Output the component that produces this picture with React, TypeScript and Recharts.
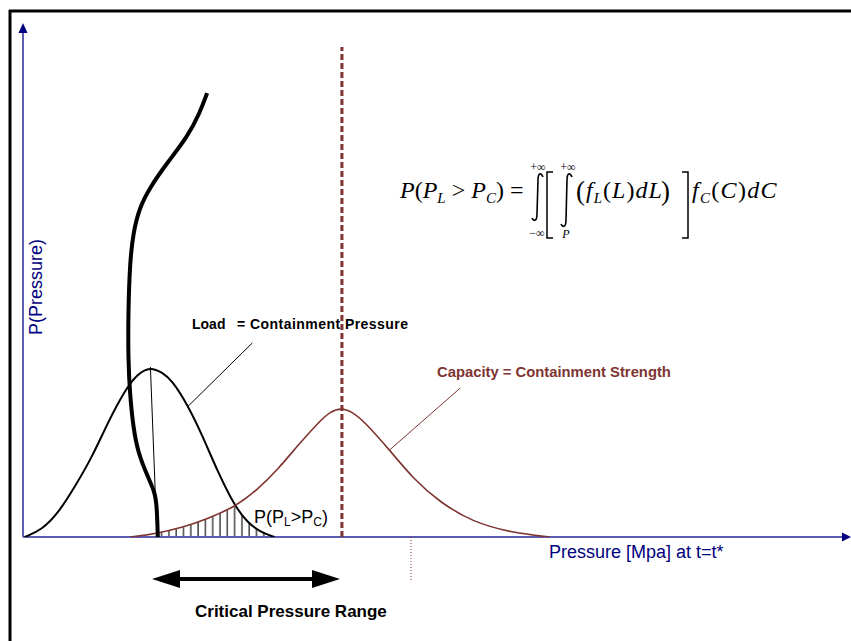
import React from 'react';
import { ComposedChart, Line, Area, XAxis, YAxis, ReferenceLine } from 'recharts';

// pressure (x) and density (y) in chart units
const loadPressure = [0.2, 2.3, 4.3, 6.3, 8.4, 10.3, 12.4, 14.0, 15.5, 16.9, 18.1, 20.1, 21.8, 23.7, 25.8, 27.3, 28.8, 30.6];
const loadDensity = [0, 1.4, 4.7, 9.8, 15.6, 22.3, 28.7, 32.0, 33.2, 32.2, 30.7, 25.6, 19.9, 12.7, 5.9, 2.9, 1.0, 0];

const capacityPressure = [13.0, 16.0, 19.3, 22.5, 25.8, 28.5, 31.0, 33.5, 36.0, 37.4, 38.7, 40.0, 41.5, 44.6, 47.4, 50.7, 54.7, 59.6, 64.1];
const capacityDensity = [0, 0.6, 1.8, 3.6, 5.9, 9.2, 13.2, 18.0, 22.5, 24.5, 25.2, 24.5, 22.6, 17.0, 11.5, 6.8, 2.9, 0.8, 0];

// pressure history trace (thick line), top to bottom
const historyPressure = [22.4, 21.5, 20.0, 17.5, 15.5, 14.2, 13.4, 13.0, 12.8, 12.8, 13.0, 13.4, 14.0, 15.2, 16.1, 16.3, 16.4];
const historyLevel = [86.7, 82.8, 78.1, 73.0, 68.4, 64.5, 59.4, 53.5, 43.8, 34.6, 28.1, 21.5, 16.4, 11.7, 8.6, 5.3, 0];

// hatched overlap P(PL>PC)
const overlapPressure = [16.4, 19.3, 22.5, 25.8, 27.3, 28.8, 30.6];
const overlapDensity = [0.8, 1.8, 3.6, 5.9, 2.9, 1.0, 0];

const loadPeak = { x: 15.5, y: 33.2 };
const loadPeakFoot = { x: 16.3, y: 0 };
const capacityMean = 38.8;
const capacityMeanTop = 95.7;
const designPressure = 47.2;
const loadLeader = [{ x: 27.9, y: 37.9 }, { x: 20.0, y: 25.4 }];
const capacityLeader = [{ x: 53.2, y: 29.1 }, { x: 44.6, y: 17.0 }];

const zip = (xs: number[], ys: number[]) => xs.map((x, i) => ({ x, y: ys[i] }));

const load = zip(loadPressure, loadDensity);
const capacity = zip(capacityPressure, capacityDensity);
const history = zip(historyPressure, historyLevel);
const overlap = zip(overlapPressure, overlapDensity);

const AXIS = '#5c5cb0';
const NAVY = '#000080';
const BROWN = '#7e3431';
const SANS = "'Liberation Sans', Arial, sans-serif";
const SERIF = "'Liberation Serif', 'Times New Roman', serif";

function Formula() {
  return (
    <g fontFamily={SERIF} fill="#000">
      <text x={400} y={198} fontSize={24}>
        <tspan fontStyle="italic">P</tspan>
        <tspan>(</tspan>
        <tspan fontStyle="italic">P</tspan>
        <tspan fontStyle="italic" fontSize={15} dy={5}>L</tspan>
        <tspan dy={-5}> &gt; </tspan>
        <tspan fontStyle="italic">P</tspan>
        <tspan fontStyle="italic" fontSize={15} dy={5}>C</tspan>
        <tspan dy={-5}>) =</tspan>
      </text>
      {/* outer integral */}
      <path d="M543 177 C541 172 538 173 538 180 L537 214 C537 221 534 222 532 218" fill="none" stroke="#000" strokeWidth={1.6} />
      <text x={538} y={171} fontSize={12} textAnchor="middle">+∞</text>
      <text x={537} y={237} fontSize={12} textAnchor="middle">−∞</text>
      {/* left bracket */}
      <path d="M553 172 H547 V238 H553" fill="none" stroke="#000" strokeWidth={1.5} />
      {/* inner integral */}
      <path d="M572 177 C570 172 567 173 567 180 L566 220 C566 227 563 228 561 224" fill="none" stroke="#000" strokeWidth={1.6} />
      <text x={568} y={171} fontSize={12} textAnchor="middle">+∞</text>
      <text x={566} y={238} fontSize={12} fontStyle="italic" textAnchor="middle">P</text>
      <text x={576} y={200} fontSize={27}>(</text>
      <text x={586} y={198} fontSize={24} letterSpacing={1}>
        <tspan fontStyle="italic">f</tspan>
        <tspan fontStyle="italic" fontSize={15} dy={5}>L</tspan>
        <tspan dy={-5}>(</tspan>
        <tspan fontStyle="italic">L</tspan>
        <tspan>)</tspan>
        <tspan fontStyle="italic">dL</tspan>
      </text>
      <text x={661} y={200} fontSize={27}>)</text>
      {/* right bracket */}
      <path d="M682 172 H688 V238 H682" fill="none" stroke="#000" strokeWidth={1.5} />
      <text x={692} y={198} fontSize={24} letterSpacing={1.3}>
        <tspan fontStyle="italic">f</tspan>
        <tspan fontStyle="italic" fontSize={15} dy={5}>C</tspan>
        <tspan dy={-5}>(</tspan>
        <tspan fontStyle="italic">C</tspan>
        <tspan>)</tspan>
        <tspan fontStyle="italic">dC</tspan>
      </text>
    </g>
  );
}

function Overlay() {
  return (
    <svg width={851} height={641} style={{ position: 'absolute', left: 0, top: 0, pointerEvents: 'none' }}>
      {/* frame */}
      <line x1={9} y1={11} x2={851} y2={11} stroke="#000" strokeWidth={3} />
      <line x1={10} y1={10} x2={10} y2={641} stroke="#000" strokeWidth={3} />
      {/* axis arrowheads */}
      <polygon points="23,23 18.5,33 27.5,33" fill={NAVY} />
      <polygon points="851,537 842,532.5 842,541.5" fill={NAVY} />
      <text transform="translate(42,287) rotate(-90)" textAnchor="middle" fontFamily={SANS} fontSize={18} fill={NAVY}>P(Pressure)</text>
      <text x={549} y={558} fontFamily={SANS} fontSize={18} fill={NAVY}>Pressure [Mpa] at t=t*</text>

      <text x={192} y={329} fontFamily={SANS} fontSize={14} fontWeight="bold" fill="#000">Load</text>
      <text x={237} y={329} fontFamily={SANS} fontSize={14} fontWeight="bold" fill="#000" textLength={171}>= Containment Pressure</text>
      <text x={437} y={377} fontFamily={SANS} fontSize={14.8} fontWeight="bold" fill={BROWN}>Capacity = Containment Strength</text>

      <text x={254} y={523} fontFamily={SANS} fontSize={18} fill="#000">
        <tspan>P(P</tspan>
        <tspan fontSize={12} dy={3}>L</tspan>
        <tspan dy={-3}>&gt;P</tspan>
        <tspan fontSize={12} dy={3}>C</tspan>
        <tspan dy={-3}>)</tspan>
      </text>

      {/* critical pressure range arrow */}
      <rect x={176} y={577} width={140} height={4} fill="#000" />
      <polygon points="152,579 180,570 180,588" fill="#000" />
      <polygon points="340,579 312,570 312,588" fill="#000" />
      <text x={195} y={617} fontFamily={SANS} fontSize={17} fontWeight="bold" fill="#000">Critical Pressure Range</text>

      <Formula />
    </svg>
  );
}

export default function App() {
  return (
    <div style={{ position: 'relative', width: 851, height: 641, background: '#fff' }}>
      <style>{'body{margin:0}'}</style>
      <ComposedChart width={851} height={641} margin={{ top: 25, right: 6, bottom: 104, left: 23 }}>
        <defs>
          <pattern id="hatch" patternUnits="userSpaceOnUse" width={7.3} height={8}>
            <line x1={1} y1={0} x2={1} y2={8} stroke="#000" strokeWidth={1.1} />
          </pattern>
        </defs>
        <XAxis type="number" dataKey="x" domain={[0, 100]} hide allowDataOverflow />
        <YAxis type="number" domain={[0, 100]} hide allowDataOverflow />

        <ReferenceLine x={0} stroke={AXIS} strokeWidth={2} ifOverflow="visible" />
        <Area data={overlap} dataKey="y" type="linear" stroke="none" fill="url(#hatch)" fillOpacity={1} dot={false} activeDot={false} isAnimationActive={false} />
        <ReferenceLine y={0} stroke={AXIS} strokeWidth={2} ifOverflow="visible" />
        <ReferenceLine segment={[{ x: designPressure, y: 0 }, { x: designPressure, y: -8.4 }]} stroke={BROWN} strokeWidth={1} strokeDasharray="1 2" ifOverflow="visible" />

        <Line data={load} dataKey="y" type="basis" stroke="#000" strokeWidth={2} dot={false} activeDot={false} isAnimationActive={false} />
        <Line data={capacity} dataKey="y" type="basis" stroke={BROWN} strokeWidth={1.6} dot={false} activeDot={false} isAnimationActive={false} />
        <ReferenceLine segment={[loadPeak, loadPeakFoot]} stroke="#000" strokeWidth={1} ifOverflow="visible" />
        <ReferenceLine segment={loadLeader} stroke="#000" strokeWidth={1} ifOverflow="visible" />
        <ReferenceLine segment={capacityLeader} stroke={BROWN} strokeWidth={1} ifOverflow="visible" />
        <ReferenceLine segment={[{ x: capacityMean, y: 0 }, { x: capacityMean, y: capacityMeanTop }]} stroke={BROWN} strokeWidth={3} strokeDasharray="6 3" ifOverflow="visible" />
        <Line data={history} dataKey="y" type="basis" stroke="#000" strokeWidth={4} dot={false} activeDot={false} isAnimationActive={false} />
      </ComposedChart>
      <Overlay />
    </div>
  );
}
